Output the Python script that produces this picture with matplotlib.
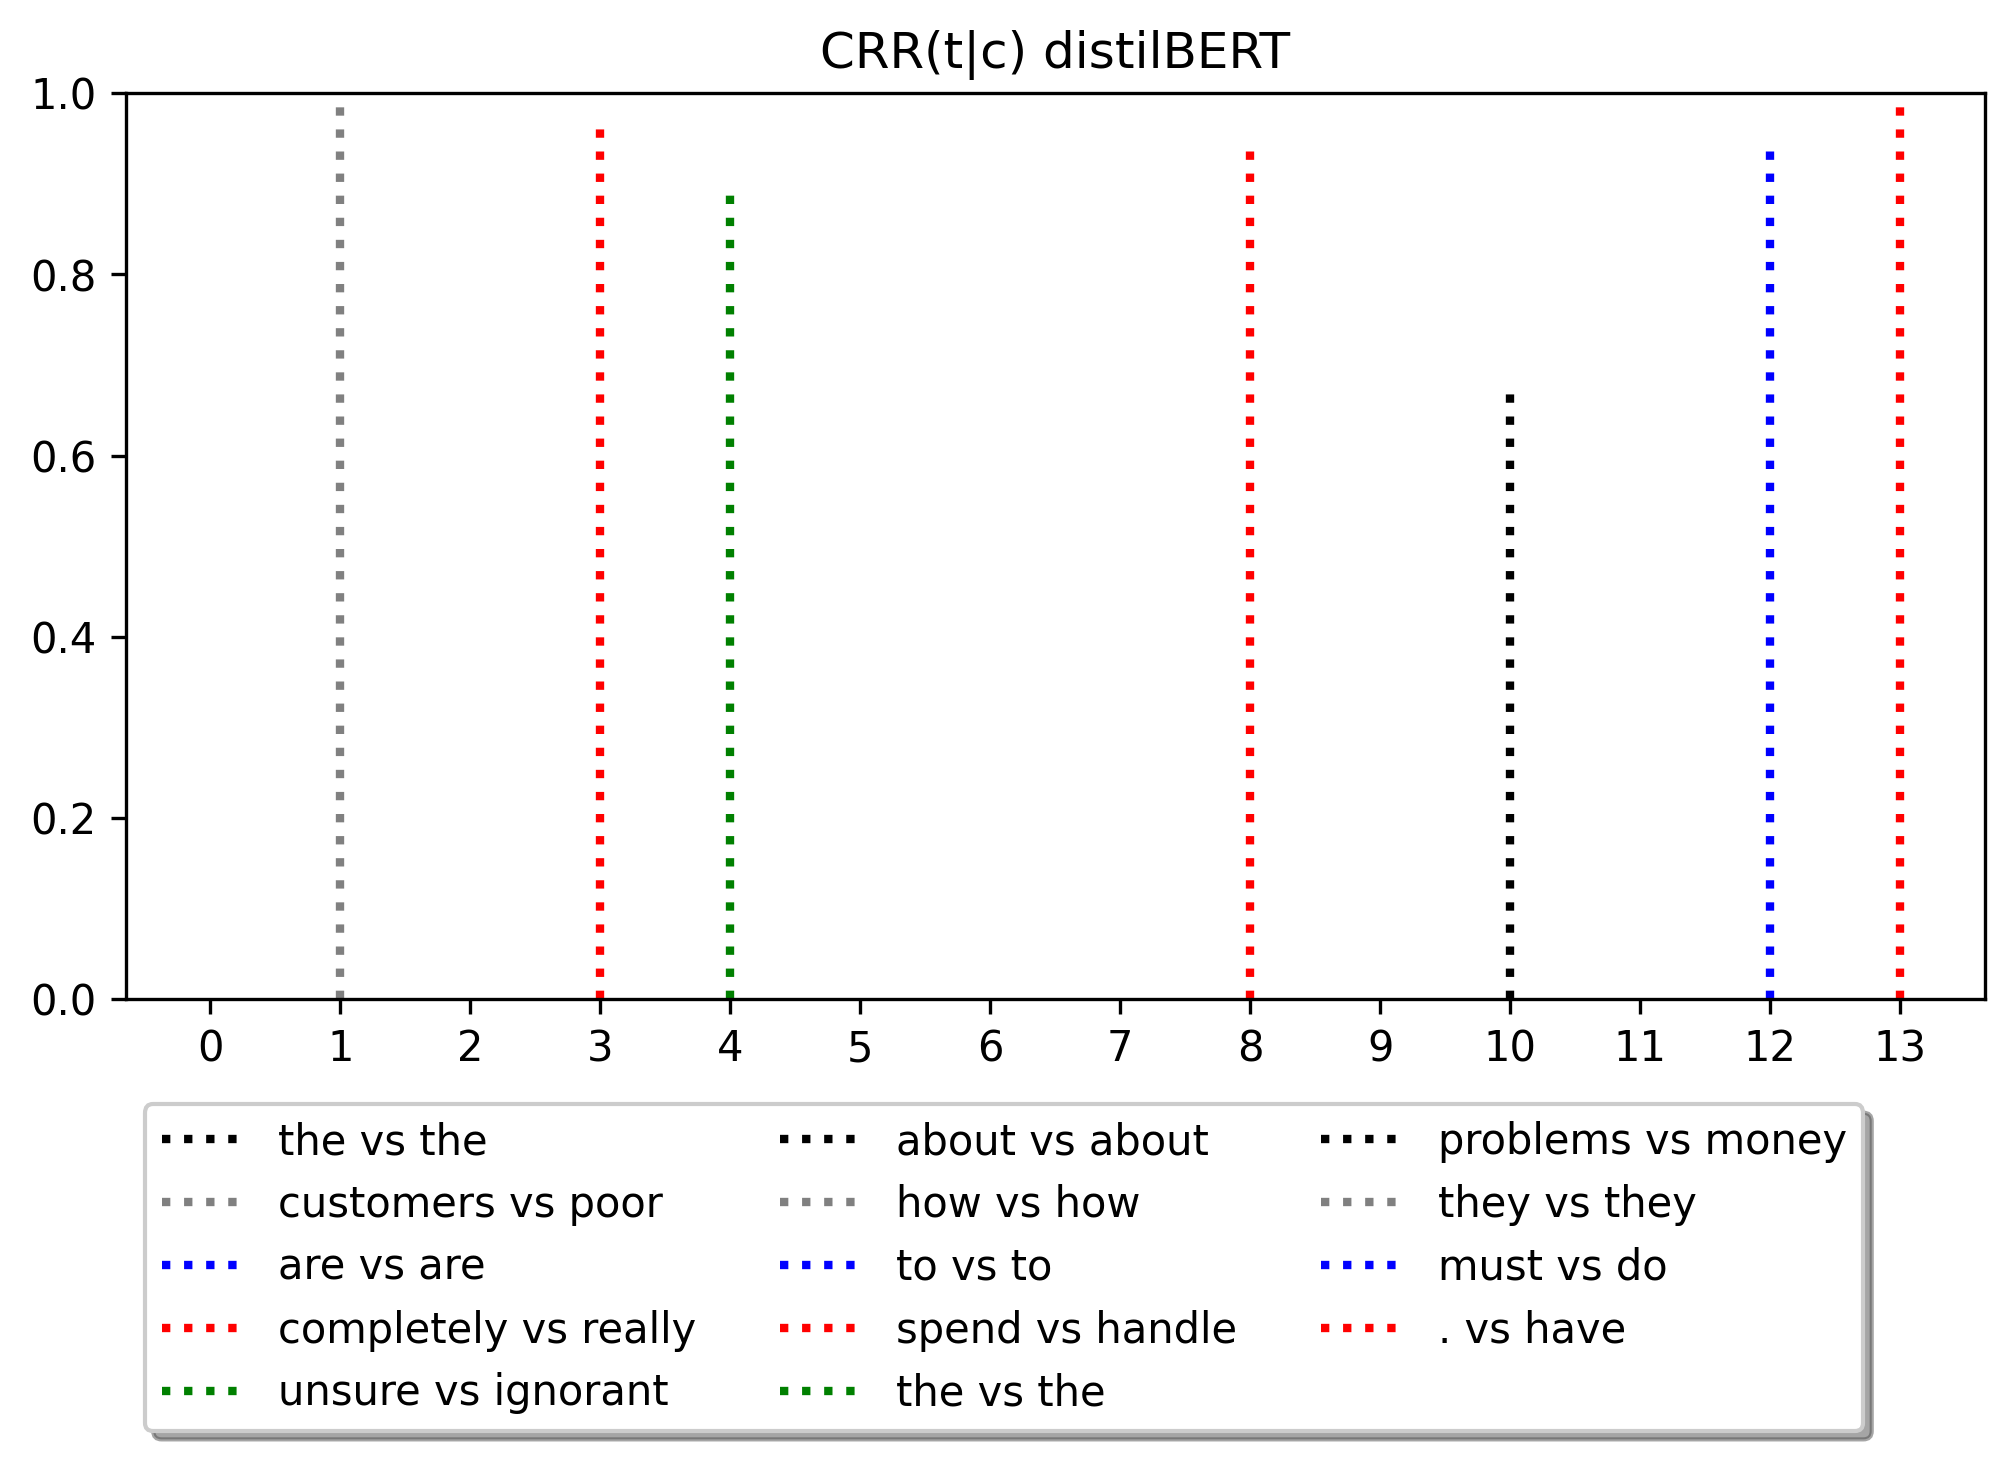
import matplotlib
matplotlib.use("Agg")
import matplotlib.pyplot as plt

positions = list(range(14))
labels = ["the vs the", "customers vs poor", "are vs are", "completely vs really",
          "unsure vs ignorant", "about vs about", "how vs how", "to vs to",
          "spend vs handle", "the vs the", "problems vs money", "they vs they",
          "must vs do", ". vs have"]
values = [0.0, 0.99, 0.0, 0.965, 0.89, 0.0, 0.0, 0.0, 0.94, 0.0, 0.67, 0.0, 0.94, 0.99]
colors = ["black", "gray", "blue", "red", "green"]

fig = plt.figure(figsize=(2015/300, 1461/300), dpi=300)
ax = fig.add_axes([126/2015, 1 - 999.3/1461, (1984.5-126)/2015, (999.3-93.3)/1461])

for i, (p, v, lab) in enumerate(zip(positions, values, labels)):
    ax.vlines(p, 0, v, colors=colors[i % len(colors)], linestyles=":", linewidth=2, label=lab)

ax.set_xticks(positions)
ax.set_ylim(0, 1.0)
ax.set_xlim(-0.65, 13.65)
ax.set_title("CRR(t|c) distilBERT")
ax.legend(loc="upper center", bbox_to_anchor=(0.4725, -0.093), ncol=3, shadow=True,
          fontsize=10)

fig.savefig("out.png", dpi=300)
